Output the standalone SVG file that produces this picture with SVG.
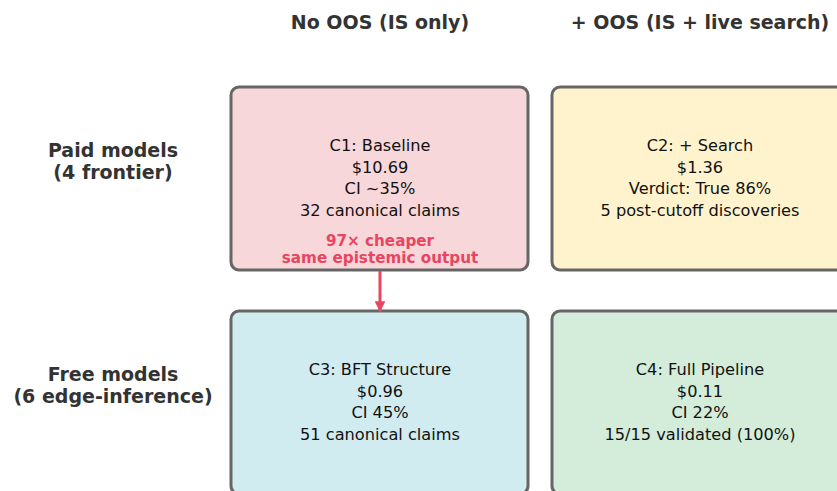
<svg xmlns="http://www.w3.org/2000/svg" width="837" height="491" viewBox="0 0 837 491">
  <style>
    .box { stroke: #666666; stroke-width: 3; }
    .t { font-family: "DejaVu Sans", sans-serif; font-size: 16.2px; fill: #111111; text-anchor: middle; }
    .hdr { font-family: "DejaVu Sans", sans-serif; font-size: 19px; font-weight: bold; fill: #333333; text-anchor: middle; }
    .note { font-family: "DejaVu Sans", sans-serif; font-size: 15.2px; font-weight: bold; fill: #e94560; text-anchor: middle; }
  </style>
  <defs>
    <marker id="arr" viewBox="0 0 10 10" refX="10" refY="5" markerWidth="3.6" markerHeight="3.6" orient="auto" markerUnits="strokeWidth">
      <path d="M0,0 L10,5 L0,10 z" fill="#e94560"/>
    </marker>
  </defs>
  <rect width="837" height="491" fill="#ffffff"/>

  <g id="headers">
    <text class="hdr" x="380" y="29">No OOS (IS only)</text>
    <text class="hdr" x="700" y="29">+ OOS (IS + live search)</text>
  </g>
  <g id="row-paid">
    <text class="hdr" x="113" y="157">Paid models</text>
    <text class="hdr" x="113" y="179">(4 frontier)</text>
  </g>
  <g id="row-free">
    <text class="hdr" x="113" y="381">Free models</text>
    <text class="hdr" x="113" y="403">(6 edge-inference)</text>
  </g>

  <g id="c1">
    <rect class="box" x="231" y="87" width="297" height="183" rx="8" fill="#f8d7da"/>
    <text class="t" x="380" y="151">C1: Baseline</text>
    <text class="t" x="380" y="173">$10.69</text>
    <text class="t" x="380" y="194">CI ~35%</text>
    <text class="t" x="380" y="216">32 canonical claims</text>
    <text class="note" x="380" y="246">97× cheaper</text>
    <text class="note" x="380" y="263">same epistemic output</text>
  </g>
  <g id="c2">
    <rect class="box" x="552" y="87" width="297" height="183" rx="8" fill="#fff3cd"/>
    <text class="t" x="700" y="151">C2: + Search</text>
    <text class="t" x="700" y="173">$1.36</text>
    <text class="t" x="700" y="194">Verdict: True 86%</text>
    <text class="t" x="700" y="216">5 post-cutoff discoveries</text>
  </g>
  <g id="c3">
    <rect class="box" x="231" y="311" width="297" height="183" rx="8" fill="#d1ecf1"/>
    <text class="t" x="380" y="375">C3: BFT Structure</text>
    <text class="t" x="380" y="397">$0.96</text>
    <text class="t" x="380" y="418">CI 45%</text>
    <text class="t" x="380" y="440">51 canonical claims</text>
  </g>
  <g id="c4">
    <rect class="box" x="552" y="311" width="297" height="183" rx="8" fill="#d4edda"/>
    <text class="t" x="700" y="375">C4: Full Pipeline</text>
    <text class="t" x="700" y="397">$0.11</text>
    <text class="t" x="700" y="418">CI 22%</text>
    <text class="t" x="700" y="440">15/15 validated (100%)</text>
  </g>

  <g id="connectors">
    <line x1="380" y1="271" x2="380" y2="312" stroke="#e94560" stroke-width="3" marker-end="url(#arr)"/>
  </g>
</svg>
